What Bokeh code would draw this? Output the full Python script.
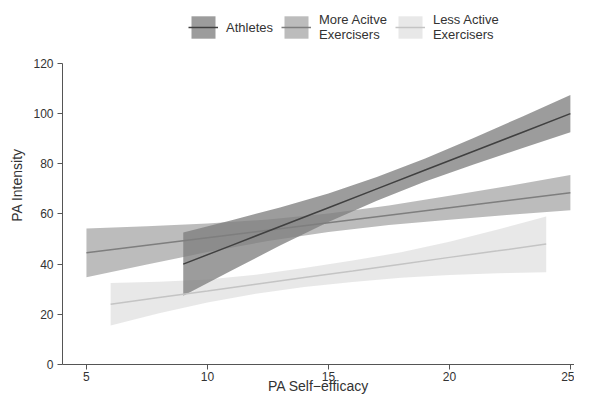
from bokeh.plotting import figure
from bokeh.models import Range1d, Legend, LegendItem
from bokeh.embed import file_html
from bokeh.resources import INLINE

# Athletes
ath_x = [9, 11, 13, 15, 17, 19, 21, 23, 25]
ath_fit = [40, 47.5, 55, 62.5, 70, 77.5, 85, 92.5, 100]
ath_lo = [27.4, 37.5, 47.4, 56.8, 65.3, 72.9, 79.7, 86.2, 92.6]
ath_hi = [52.6, 57.5, 62.6, 68.2, 74.7, 82.1, 90.3, 98.8, 107.4]

# More active exercisers
mae_x = [5, 7.5, 10, 12.5, 15, 17.5, 20, 22.5, 25]
mae_fit = [44.5, 47.5, 50.5, 53.5, 56.5, 59.5, 62.5, 65.5, 68.5]
mae_lo = [34.8, 39.9, 44.8, 49.2, 52.8, 55.6, 57.7, 59.7, 61.5]
mae_hi = [54.2, 55.1, 56.2, 57.8, 60.2, 63.4, 67.3, 71.3, 75.5]

# Less active exercisers
lae_x = [6, 8, 10, 12, 14, 16, 18, 20, 22, 24]
lae_fit = [24, 26.7, 29.3, 32, 34.7, 37.3, 40, 42.7, 45.3, 48]
lae_lo = [15.5, 20.4, 24.7, 28.2, 30.9, 32.9, 34.6, 35.7, 36.4, 36.8]
lae_hi = [32.5, 33.0, 33.9, 35.8, 38.5, 41.5, 44.7, 48.9, 53.8, 59.0]

x_ticks = [5, 10, 15, 20, 25]
y_ticks = [0, 20, 40, 60, 80, 100, 120]

FONT = "Liberation Sans"

p = figure(width=574, height=396, output_backend="svg", toolbar_location=None,
           x_range=Range1d(4.01, 25.17), y_range=Range1d(0, 143.1),
           min_border_left=62, min_border_right=0, min_border_top=5, min_border_bottom=32)
p.outline_line_color = None
p.xgrid.visible = False
p.ygrid.visible = False

r_lae_band = p.varea(x=lae_x, y1=lae_lo, y2=lae_hi, fill_color="#e2e2e2", fill_alpha=0.8)
r_mae_band = p.varea(x=mae_x, y1=mae_lo, y2=mae_hi, fill_color="#ababab", fill_alpha=0.8)
r_ath_band = p.varea(x=ath_x, y1=ath_lo, y2=ath_hi, fill_color="#7d7d7d", fill_alpha=0.76)
r_lae_line = p.line(lae_x, lae_fit, line_color="#c4c4c4", line_width=1.5)
r_mae_line = p.line(mae_x, mae_fit, line_color="#7e7e7e", line_width=1.5)
r_ath_line = p.line(ath_x, ath_fit, line_color="#404040", line_width=1.5)

for ax in (p.xaxis[0], p.yaxis[0]):
    ax.axis_line_color = "#555555"
    ax.major_tick_line_color = "#555555"
    ax.minor_tick_line_color = None
    ax.major_tick_out = 5
    ax.major_tick_in = 0
    ax.major_label_text_font = FONT
    ax.major_label_text_font_size = "12px"
    ax.major_label_text_color = "#333333"
    ax.axis_label_text_font = FONT
    ax.axis_label_text_font_size = "14px"
    ax.axis_label_text_font_style = "normal"
    ax.axis_label_text_color = "#333333"

p.xaxis.ticker = x_ticks
p.yaxis.ticker = y_ticks
p.yaxis.bounds = (0, 120)
p.xaxis.axis_label = "PA Self\u2212efficacy"
p.yaxis.axis_label = "PA Intensity"
p.xaxis.major_label_standoff = 2
p.xaxis.axis_label_standoff = -6
p.yaxis.major_label_standoff = 4
p.yaxis.axis_label_standoff = 5

legend = Legend(items=[
    LegendItem(label="Athletes", renderers=[r_ath_band, r_ath_line]),
    LegendItem(label="More Acitve\nExercisers", renderers=[r_mae_band, r_mae_line]),
    LegendItem(label="Less Active\nExercisers", renderers=[r_lae_band, r_lae_line]),
], orientation="horizontal", location=(126, 322))
legend.glyph_width = 30
legend.glyph_height = 28
legend.label_standoff = 8
legend.spacing = 8
legend.padding = 0
legend.margin = 0
legend.border_line_color = None
legend.background_fill_alpha = 0
legend.label_text_font = FONT
legend.label_text_font_size = "13px"
legend.label_text_color = "#333333"
legend.label_text_line_height = 0.95
p.add_layout(legend)

open("out.html", "w").write(file_html(p, INLINE))
